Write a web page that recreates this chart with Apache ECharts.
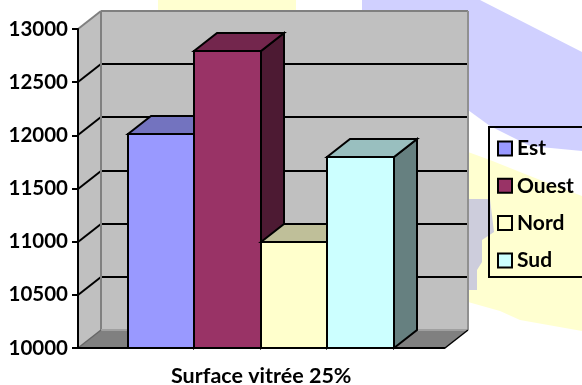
<!DOCTYPE html>
<html lang="fr">

<head>
    <meta charset="UTF-8">
    <title>Surface vitrée 25%</title>
    <style>
        html, body { margin: 0; padding: 0; background: #fff; }
        #container { width: 582px; height: 385px; }
    </style>
</head>

<body>
    <div id="container"></div>
    <script src="https://cdn.jsdelivr.net/npm/echarts@6/dist/echarts.min.js"></script>
    <script>
        var categories = ['Surface vitrée 25%'];
        var estValues = [12010];
        var ouestValues = [12790];
        var nordValues = [11000];
        var sudValues = [11800];
        var yTicks = [10000, 10500, 11000, 11500, 12000, 12500, 13000];

        var names = ['Est', 'Ouest', 'Nord', 'Sud'];
        var allValues = [estValues, ouestValues, nordValues, sudValues];
        var frontColors = ['#9999FF', '#993366', '#FFFFCC', '#CCFFFF'];
        var topColors = ['#7373BF', '#73264D', '#BFBF99', '#99BFBF'];
        var sideColors = ['#4D4D80', '#4D1A33', '#808066', '#668080'];

        var FONT = 'Lato, sans-serif';
        // profondeur de la vue 3D, en pixels
        var DX = 23;
        var DY = 18;
        // position des barres dans la bande de categorie
        var GAP_RATIO = 0.1356;
        var BAR_RATIO = 0.1817;

        function poly(points, fill, stroke, lineWidth) {
            return {
                type: 'polygon',
                shape: { points: points },
                style: { fill: fill, stroke: stroke || null, lineWidth: lineWidth || 0, lineJoin: 'miter' }
            };
        }

        function line(x1, y1, x2, y2, color, width) {
            return {
                type: 'line',
                shape: { x1: x1, y1: y1, x2: x2, y2: y2 },
                style: { stroke: color, lineWidth: width }
            };
        }

        // murs, sol et grilles
        function renderWalls(params, api) {
            var band = api.size([1, 0])[0];
            var center = api.coord([0, yTicks[0]]);
            var left = Math.round(center[0] - band / 2);
            var right = Math.round(center[0] + band / 2);
            var bottom = Math.round(center[1]);
            var top = Math.round(api.coord([0, yTicks[yTicks.length - 1]])[1]);
            var items = [];
            items.push(poly([[left, top], [left + DX, top - DY], [left + DX, bottom - DY], [left, bottom]], '#C0C0C0'));
            items.push(poly([[left + DX, top - DY], [right + DX, top - DY], [right + DX, bottom - DY], [left + DX, bottom - DY]], '#C0C0C0'));
            items.push(poly([[left, bottom], [left + DX, bottom - DY], [right + DX, bottom - DY], [right, bottom]], '#808080'));
            for (var i = 1; i < yTicks.length - 1; i++) {
                var y = Math.round(api.coord([0, yTicks[i]])[1]);
                items.push(line(left, y, left + DX, y - DY, '#000', 2));
                items.push(line(left + DX, y - DY, right + DX, y - DY, '#000', 2));
            }
            items.push(line(left, top, left + DX, top - DY, '#808080', 2));
            items.push(line(left + DX, top - DY, right + DX, top - DY, '#808080', 2));
            items.push(line(left + DX, top - DY, left + DX, bottom - DY, '#808080', 2));
            items.push(line(right + DX, top - DY, right + DX, bottom - DY, '#909090', 2));
            items.push(line(left + DX, bottom - DY, right + DX, bottom - DY, '#A0A0A0', 2));
            items.push(line(left, bottom, left + DX, bottom - DY, '#666', 1.5));
            items.push(line(right, bottom, right + DX, bottom - DY, '#000', 1.5));
            return { type: 'group', children: items };
        }

        function makeBar(index) {
            return function (params, api) {
                var band = api.size([1, 0])[0];
                var base = api.coord([0, yTicks[0]]);
                var topY = Math.round(api.coord([0, api.value(1)])[1]);
                var start = base[0] - band / 2 + band * GAP_RATIO;
                var x0 = Math.round(start + index * band * BAR_RATIO);
                var x1 = Math.round(start + (index + 1) * band * BAR_RATIO);
                var y1 = Math.round(base[1]);
                return {
                    type: 'group',
                    children: [
                        poly([[x1, topY], [x1 + DX, topY - DY], [x1 + DX, y1 - DY], [x1, y1]], sideColors[index], '#000', 2),
                        poly([[x0, topY], [x0 + DX, topY - DY], [x1 + DX, topY - DY], [x1, topY]], topColors[index], '#000', 2),
                        poly([[x0, topY], [x1, topY], [x1, y1], [x0, y1]], frontColors[index], '#000', 2)
                    ]
                };
            };
        }

        var series = [{
            name: 'walls',
            type: 'custom',
            silent: true,
            z: 1,
            renderItem: renderWalls,
            data: [[0, yTicks[0]]]
        }];
        names.forEach(function (name, i) {
            series.push({
                name: name,
                type: 'custom',
                z: 2 + i,
                itemStyle: { color: frontColors[i] },
                renderItem: makeBar(i),
                encode: { x: 0, y: 1 },
                data: allValues[i].map(function (v, k) { return [k, v]; })
            });
        });

        var chart = echarts.init(document.getElementById('container'), null, { renderer: 'canvas' });
        chart.setOption({
            animation: false,
            backgroundColor: '#fff',
            // filigrane du fond
            graphic: {
                elements: [
                    { type: 'polygon', silent: true, shape: { points: [[158, 0], [296, 0], [296, 10], [158, 10]] }, style: { fill: '#FFFFD0' } },
                    { type: 'polygon', silent: true, shape: { points: [[362, 0], [480, 0], [582, 52], [582, 151], [530, 146], [490, 126], [468, 110], [440, 40], [362, 12]] }, style: { fill: '#D0D0FF' } },
                    { type: 'polygon', silent: true, shape: { points: [[468, 152], [490, 160], [530, 176], [582, 196], [582, 331], [520, 320], [500, 311], [468, 302]] }, style: { fill: '#FFFFD0' } },
                    { type: 'polygon', silent: true, shape: { points: [[468, 199], [490, 199], [494, 232], [482, 240], [482, 262], [477, 270], [477, 290], [468, 290]] }, style: { fill: '#CDCDDC' } },
                    { type: 'rect', silent: true, shape: { x: 489, y: 127, width: 110, height: 150 }, style: { fill: 'transparent', stroke: '#000', lineWidth: 2 } }
                ]
            },
            grid: { left: 78, width: 366.5, top: 29, height: 319, outerBoundsMode: 'none' },
            legend: {
                orient: 'vertical',
                left: 497,
                top: 138,
                padding: 0,
                itemWidth: 14,
                itemHeight: 14,
                itemGap: 16.3,
                selectedMode: false,
                textStyle: { fontFamily: FONT, fontWeight: 'bold', fontSize: 21, color: '#000' },
                data: names.map(function (name, i) {
                    return { name: name, icon: 'rect', itemStyle: { color: frontColors[i], borderColor: '#000', borderWidth: 2 } };
                })
            },
            xAxis: {
                type: 'category',
                data: categories,
                axisLine: { lineStyle: { color: '#000', width: 2 } },
                axisTick: { length: 6, lineStyle: { color: '#000', width: 2 } },
                axisLabel: { color: '#000', fontFamily: FONT, fontWeight: 'bold', fontSize: 21.5, margin: 17 },
                z: 10
            },
            yAxis: {
                type: 'value',
                min: 10000,
                max: 13000,
                interval: 500,
                axisLine: { show: true, lineStyle: { color: '#000', width: 2 } },
                axisTick: { show: true, length: 6, lineStyle: { color: '#000', width: 2 } },
                axisLabel: {
                    color: '#000', fontFamily: FONT, fontWeight: 'bold', fontSize: 20.5, margin: 10,
                    formatter: function (v) { return String(v); }
                },
                splitLine: { show: false },
                z: 10
            },
            series: series
        });
    </script>
</body>

</html>
